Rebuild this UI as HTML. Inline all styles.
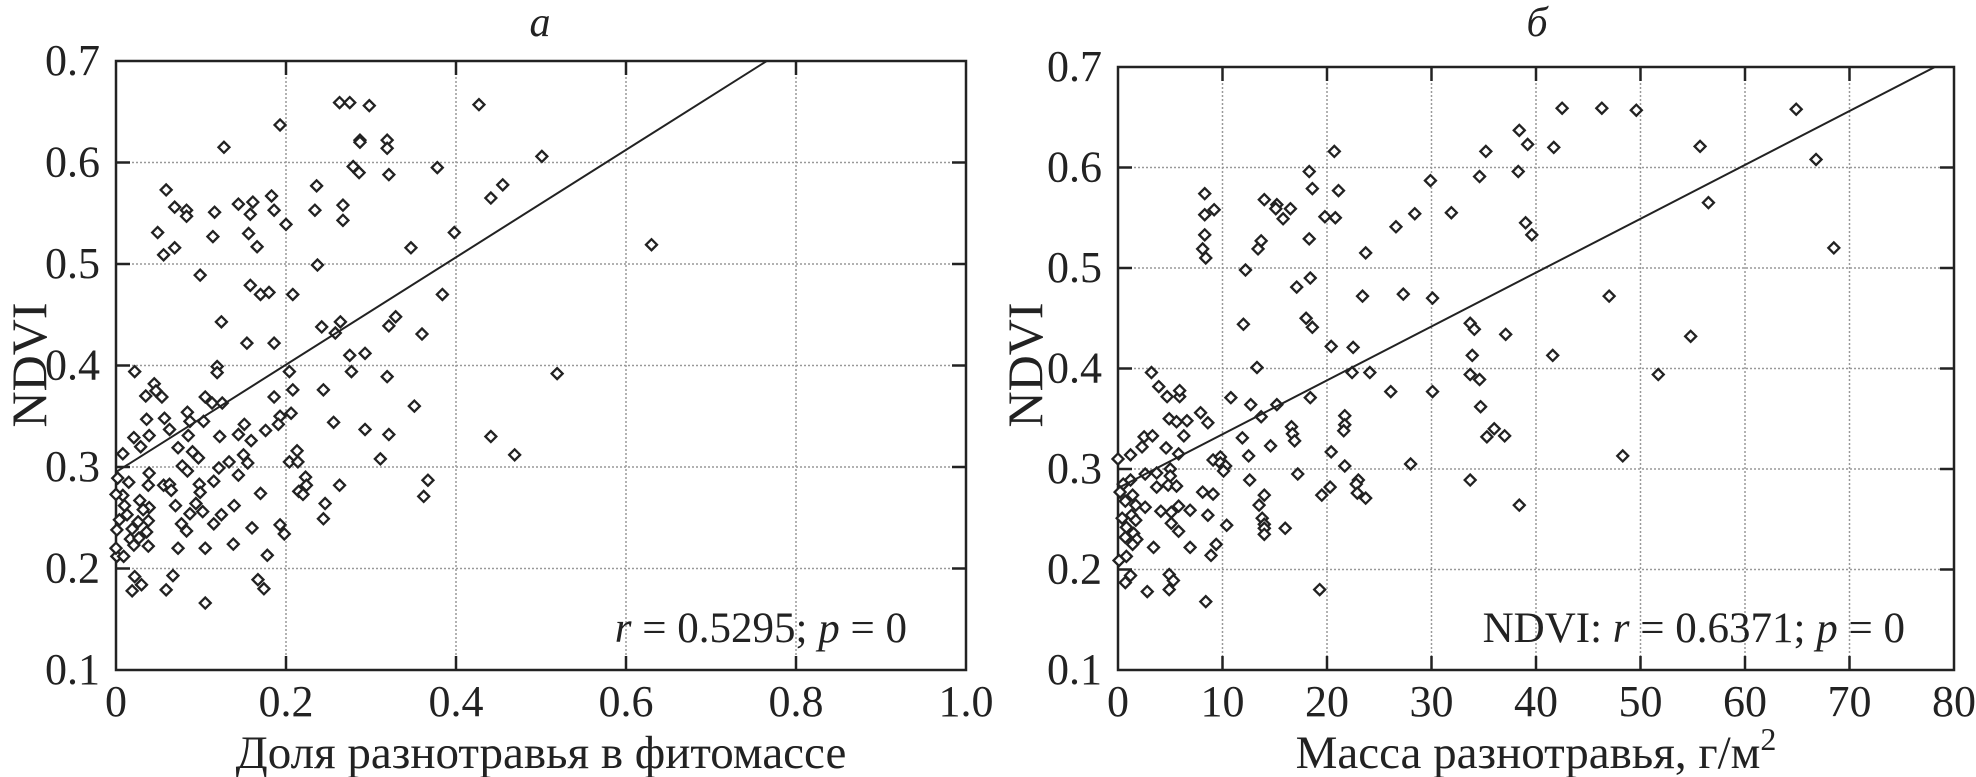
<!DOCTYPE html>
<html><head><meta charset="utf-8">
<style>
html,body{margin:0;padding:0;background:#fff;}
svg{display:block;font-family:"Liberation Serif","Times New Roman",serif;}
text{font-family:"Liberation Serif","Times New Roman",serif;}
</style></head>
<body>
<svg id="chart" width="1976" height="777" viewBox="0 0 1976 777" xmlns="http://www.w3.org/2000/svg" font-family="Liberation Serif, serif"></svg>
<script>
// ---- Panel a data: share of forbs in phytomass vs NDVI ----
const aX = [.263,.275,.298,.427,.193,.287,.287,.319,.319,.127,.501,.279,.286,.321,.378,.455,.441,.236,.059,.183,.144,.161,.069,.083,.083,.116,.158,.186,.234,.267,.267,.200,.049,.114,.156,.166,.398,.630,.069,.056,.347,.237,.099,.158,.170,.180,.208,.384,.124,.242,.264,.329,.321,.258,.360,.154,.186,.275,.293,.119,.119,.277,.204,.022,.519,.319,.045,.047,.208,.244,.035,.054,.105,.186,.113,.125,.351,.036,.057,.084,.103,.087,.206,.193,.191,.151,.256,.063,.176,.144,.159,.039,.122,.293,.321,.441,.021,.085,.029,.073,.150,.090,.097,.213,.311,.469,.008,.155,.133,.121,.204,.214,.078,.084,.039,.144,.002,.015,.223,.367,.056,.063,.098,.038,.115,.263,.224,.065,.099,.170,.215,.220,.008,.362,.028,.010,.039,.070,.139,.094,.246,.032,.102,.124,.013,.026,.038,.087,.244,.004,.077,.115,.193,.160,.019,.036,.083,.001,.198,.017,.027,.038,.073,.105,.138,.021,.001,.009,.178,.022,.067,.167,.030,.174,.019,.059,.105,.000,.000];
const aY = [.659,.659,.656,.657,.637,.622,.620,.622,.614,.615,.606,.596,.590,.588,.595,.578,.565,.577,.573,.567,.559,.561,.556,.553,.547,.551,.549,.553,.553,.558,.543,.539,.531,.527,.530,.517,.531,.519,.516,.509,.516,.499,.489,.479,.470,.472,.470,.470,.443,.438,.443,.448,.439,.432,.431,.422,.422,.410,.412,.399,.393,.394,.394,.394,.392,.389,.382,.375,.376,.376,.370,.369,.369,.369,.363,.363,.360,.347,.348,.354,.345,.345,.353,.350,.342,.342,.344,.337,.336,.332,.326,.331,.330,.337,.332,.330,.329,.331,.320,.319,.312,.315,.309,.316,.308,.312,.313,.304,.305,.299,.305,.305,.301,.296,.294,.292,.289,.285,.290,.287,.282,.283,.283,.282,.286,.282,.282,.277,.275,.274,.276,.273,.272,.271,.267,.262,.260,.262,.262,.264,.264,.258,.256,.253,.253,.246,.247,.254,.249,.248,.244,.244,.243,.240,.239,.236,.237,.238,.234,.229,.230,.222,.220,.220,.224,.223,.212,.212,.213,.192,.193,.189,.184,.180,.178,.179,.166,.220,.273];
const aFit = [0.295, 0.529]; // intercept, slope
const aXTicks = ["0","0.2","0.4","0.6","0.8","1.0"];
const aXTickVals = [0,0.2,0.4,0.6,0.8,1.0];
// ---- Panel b data: forb mass (g/m2) vs NDVI ----
const bX = [42.5,46.3,49.6,64.9,38.4,39.2,41.7,55.7,20.7,35.2,66.8,18.3,29.9,34.6,38.3,8.3,18.6,21.1,56.5,14.0,15.2,16.5,9.2,8.3,15.1,15.8,19.8,20.8,28.4,31.9,39.0,26.6,8.3,13.7,13.4,18.3,39.6,8.1,8.4,23.7,68.5,12.2,17.1,18.4,23.4,27.3,30.1,47.0,18.0,18.6,12.0,33.7,34.1,37.1,54.8,20.4,22.5,33.9,41.6,13.3,3.2,22.4,24.1,33.7,51.7,34.6,3.9,4.7,5.9,10.8,12.7,15.2,5.9,26.1,30.1,18.4,34.7,7.9,4.9,5.6,6.6,8.6,13.7,21.7,21.7,21.6,36.0,37.0,35.3,2.5,3.3,6.3,11.9,16.6,16.7,16.9,2.3,4.6,14.6,5.8,12.5,20.4,48.3,0,1.2,9.1,9.8,9.8,10.3,21.7,28.0,10.1,5.0,2.6,3.7,17.2,1.2,0.5,23.0,33.7,12.6,5.0,3.7,4.8,5.6,20.3,22.8,0.2,1.4,9.1,14.0,19.5,22.9,8.1,23.7,0.7,1.7,2.6,13.5,5.8,6.9,4.1,5.1,38.4,1.3,8.6,13.8,0.4,1.7,5.1,14.0,10.4,0.8,14.0,16.0,5.8,1.5,14.0,0.7,1.8,1.4,9.4,3.4,6.9,8.9,0.8,0.1,1.2,4.9,5.3,0.7,2.8,4.9,19.3,8.4];
const bY = [.659,.659,.657,.658,.637,.623,.620,.621,.616,.616,.608,.596,.587,.591,.596,.574,.579,.577,.565,.568,.563,.559,.558,.553,.559,.549,.551,.550,.554,.555,.545,.541,.533,.527,.519,.529,.533,.519,.510,.515,.520,.498,.481,.490,.472,.474,.470,.472,.450,.441,.444,.445,.439,.434,.432,.422,.421,.413,.413,.401,.396,.396,.396,.394,.394,.389,.382,.372,.372,.371,.364,.364,.378,.377,.377,.371,.362,.356,.350,.347,.348,.346,.352,.353,.344,.338,.340,.333,.332,.332,.333,.333,.331,.342,.335,.328,.322,.321,.323,.315,.313,.317,.313,.310,.314,.309,.312,.306,.303,.303,.305,.298,.300,.295,.296,.295,.289,.285,.289,.289,.289,.293,.282,.284,.283,.282,.285,.277,.274,.275,.274,.274,.276,.277,.271,.268,.264,.262,.264,.263,.259,.258,.257,.264,.254,.254,.251,.251,.249,.246,.245,.244,.242,.241,.241,.238,.236,.235,.232,.230,.225,.225,.222,.222,.214,.213,.209,.194,.195,.189,.187,.178,.180,.180,.168];
const bFit = [0.281, 0.00536];
const bXTicks = ["0","10","20","30","40","50","60","70","80"];
const bXTickVals = [0,10,20,30,40,50,60,70,80];
const yTicks = ["0.1","0.2","0.3","0.4","0.5","0.6","0.7"];
const yTickVals = [0.1,0.2,0.3,0.4,0.5,0.6,0.7];

const NS = "http://www.w3.org/2000/svg";
const svg = document.getElementById('chart');
const FONT = "Liberation Serif, Times New Roman, serif";
function mk(tag, attrs, parent){const e=document.createElementNS(NS,tag);for(const k in attrs)e.setAttribute(k,attrs[k]);(parent||svg).appendChild(e);return e;}

function panel(o){
  const g = mk('g',{});
  
  
  const sx = v => o.x0 + (v - o.xmin)/(o.xmax - o.xmin)*(o.x1 - o.x0);
  const sy = v => o.y1 - (v - 0.1)/(0.7 - 0.1)*(o.y1 - o.y0);
  o.xVals.forEach((v,i)=>{
    if(i>0 && i<o.xVals.length-1){
      const l = mk('line',{x1:sx(v),x2:sx(v),y1:o.y0,y2:o.y1,stroke:'#999','stroke-width':1.5,'stroke-dasharray':'2,2'},g);
      
      
      mk('line',{x1:sx(v),x2:sx(v),y1:o.y1,y2:o.y1-14,stroke:'#222','stroke-width':2.5},g);
      mk('line',{x1:sx(v),x2:sx(v),y1:o.y0,y2:o.y0+14,stroke:'#222','stroke-width':2.5},g);
    }
    const t = mk('text',{x:sx(v),y:o.y1+46,'font-size':44,'text-anchor':'middle',fill:'#222','font-family':FONT},g);
    t.textContent = o.xLabels[i];
    
    
  });
  yTickVals.forEach((v,i)=>{
    if(i>0 && i<yTickVals.length-1){
      const l = mk('line',{x1:o.x0,x2:o.x1,y1:sy(v),y2:sy(v),stroke:'#999','stroke-width':1.5,'stroke-dasharray':'2,2'},g);
      
      
      mk('line',{x1:o.x0,x2:o.x0+14,y1:sy(v),y2:sy(v),stroke:'#222','stroke-width':2.5},g);
      mk('line',{x1:o.x1,x2:o.x1-14,y1:sy(v),y2:sy(v),stroke:'#222','stroke-width':2.5},g);
    }
    const t = mk('text',{x:o.x0-16,y:sy(v)+14,'font-size':44,'text-anchor':'end',fill:'#222','font-family':FONT},g);
    t.textContent = yTicks[i];
    
    
  });
  const box = mk('rect',{x:o.x0,y:o.y0,width:o.x1-o.x0,height:o.y1-o.y0,fill:'none',stroke:'#222','stroke-width':2.5},g);
  
  
  o.xs.forEach((xv,i)=>{
    const cx=sx(xv), cy=sy(o.ys[i]), r=5.5;
    const p = mk('path',{d:`M${cx-r},${cy}L${cx},${cy-r}L${cx+r},${cy}L${cx},${cy+r}Z`,fill:'#fff',stroke:'#222','stroke-width':2.3},g);
    
    
  });
  const xEnd = Math.min(o.xmax, (0.7 - o.fit[0])/o.fit[1]);
  const ln = mk('line',{x1:sx(o.xmin),y1:sy(o.fit[0]+o.fit[1]*o.xmin),x2:sx(xEnd),y2:sy(o.fit[0]+o.fit[1]*xEnd),stroke:'#222','stroke-width':2},g);
  
  
  return g;
}

panel({name:'panel-a',x0:116,x1:966,y0:61,y1:670,xmin:0,xmax:1,xs:aX,ys:aY,fit:aFit,xVals:aXTickVals,xLabels:aXTicks});
panel({name:'panel-b',x0:1118,x1:1954,y0:67,y1:670,xmin:0,xmax:80,xs:bX,ys:bY,fit:bFit,xVals:bXTickVals,xLabels:bXTicks});
</script>
<svg style="position:absolute;left:0;top:0" width="1976" height="777" font-family="Liberation Serif, Times New Roman, serif" fill="#222">
  <text x="540" y="36" font-size="42" font-style="italic" text-anchor="middle">а</text>
  <text x="1537" y="36" font-size="42" font-style="italic" text-anchor="middle">б</text>
  <text transform="translate(46,365) rotate(-90)" font-size="50" text-anchor="middle">NDVI</text>
  <text transform="translate(1042,365) rotate(-90)" font-size="50" text-anchor="middle">NDVI</text>
  <text x="541" y="768" font-size="47" text-anchor="middle">Доля разнотравья в фитомассе</text>
  <text x="1536" y="768" font-size="47" text-anchor="middle">Масса разнотравья, г/м<tspan dy="-18" font-size="32">2</tspan></text>
  <text x="907" y="642" font-size="43" text-anchor="end"><tspan font-style="italic">r</tspan> = 0.5295; <tspan font-style="italic">p</tspan> = 0</text>
  <text x="1905" y="642" font-size="43" text-anchor="end">NDVI: <tspan font-style="italic">r</tspan> = 0.6371; <tspan font-style="italic">p</tspan> = 0</text>
</svg>
</body></html>
